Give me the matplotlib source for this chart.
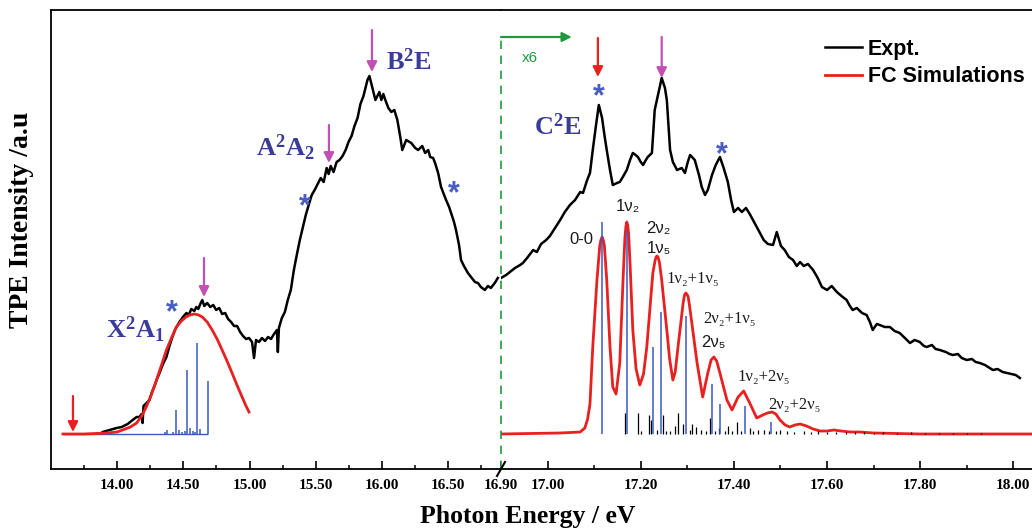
import matplotlib
matplotlib.use('Agg')
import matplotlib.pyplot as plt

plt.rcParams['font.family'] = ['Liberation Serif', 'DejaVu Serif']
plt.rcParams['mathtext.fontset'] = 'custom'
plt.rcParams['mathtext.rm'] = 'Liberation Serif'
plt.rcParams['mathtext.bf'] = 'Liberation Serif:bold'
plt.rcParams['mathtext.it'] = 'Liberation Serif:italic'

# ---- experimental TPE spectrum, below 16.9 eV (energy eV, intensity a.u.)
exp_left_e = [13.891, 13.944, 13.996, 14.034, 14.079, 14.117, 14.147, 14.169, 14.184, 14.192,
              14.199, 14.222, 14.244, 14.263, 14.282, 14.301, 14.320, 14.346, 14.372, 14.395,
              14.417, 14.440, 14.470, 14.497, 14.523, 14.541, 14.560, 14.583, 14.598, 14.613,
              14.628, 14.643, 14.658, 14.680, 14.703, 14.726, 14.748, 14.771, 14.793, 14.816,
              14.838, 14.861, 14.883, 14.906, 14.929, 14.951, 14.974, 14.996, 15.019, 15.034,
              15.049, 15.071, 15.094, 15.117, 15.140, 15.162, 15.185, 15.207, 15.214, 15.222,
              15.244, 15.267, 15.289, 15.312, 15.335, 15.357, 15.380, 15.402, 15.425, 15.447,
              15.470, 15.492, 15.515, 15.538, 15.560, 15.583, 15.598, 15.613, 15.635, 15.658,
              15.680, 15.703, 15.726, 15.748, 15.771, 15.793, 15.816, 15.838, 15.861, 15.876,
              15.891, 15.906, 15.921, 15.936, 15.951, 15.966, 15.981, 15.996, 16.011, 16.026,
              16.049, 16.071, 16.094, 16.117, 16.139, 16.154, 16.184, 16.222, 16.252, 16.274,
              16.305, 16.327, 16.350, 16.365, 16.387, 16.402, 16.425, 16.447, 16.470, 16.485,
              16.508, 16.523, 16.545, 16.560, 16.583, 16.598, 16.620, 16.650, 16.680, 16.703,
              16.726, 16.748, 16.778, 16.801, 16.823, 16.853, 16.876]
exp_left_h = [2, 4, 6, 7, 10, 14, 17, 17, 20, 11,
              28, 31, 34, 42, 48, 55, 61, 70, 77, 88,
              97, 105, 112, 117, 121, 119, 125, 123, 127, 125,
              130, 134, 128, 131, 127, 129, 124, 126, 120, 121,
              115, 112, 108, 108, 102, 98, 95, 96, 92, 76,
              94, 92, 96, 93, 97, 95, 100, 104, 82, 106,
              116, 122, 134, 144, 164, 179, 194, 206, 219, 229,
              239, 244, 250, 256, 252, 266, 260, 268, 262, 272,
              274, 278, 284, 292, 298, 308, 316, 330, 338, 346,
              354, 358, 350, 342, 334, 338, 342, 334, 340, 334,
              326, 322, 324, 314, 297, 284, 294, 291, 286, 284,
              288, 281, 284, 277, 276, 271, 261, 247, 239, 234,
              227, 221, 212, 204, 189, 174, 168, 161, 156, 152,
              151, 147, 144, 148, 146, 151, 156]

# ---- experimental spectrum above 16.9 eV (x6)
exp_right_e = [16.900, 16.911, 16.919, 16.930, 16.941, 16.947, 16.956, 16.969, 16.977, 16.986,
               16.997, 17.005, 17.016, 17.027, 17.037, 17.048, 17.059, 17.070, 17.076, 17.085,
               17.091, 17.097, 17.104, 17.110, 17.117, 17.123, 17.127, 17.134, 17.140, 17.149,
               17.155, 17.164, 17.170, 17.177, 17.183, 17.189, 17.194, 17.200, 17.205, 17.211,
               17.215, 17.224, 17.230, 17.237, 17.245, 17.252, 17.256, 17.263, 17.269, 17.278,
               17.288, 17.295, 17.301, 17.306, 17.316, 17.325, 17.331, 17.338, 17.344, 17.353,
               17.361, 17.370, 17.378, 17.387, 17.394, 17.400, 17.409, 17.417, 17.426, 17.434,
               17.441, 17.447, 17.456, 17.464, 17.473, 17.484, 17.492, 17.501, 17.509, 17.518,
               17.527, 17.535, 17.542, 17.550, 17.559, 17.570, 17.580, 17.589, 17.600, 17.610,
               17.621, 17.631, 17.642, 17.649, 17.655, 17.664, 17.675, 17.685, 17.692, 17.698,
               17.707, 17.713, 17.724, 17.735, 17.745, 17.756, 17.767, 17.778, 17.788, 17.799,
               17.808, 17.814, 17.825, 17.833, 17.842, 17.855, 17.863, 17.870, 17.881, 17.889,
               17.900, 17.911, 17.919, 17.928, 17.939, 17.949, 17.956, 17.966, 17.977, 17.986,
               17.996, 18.005, 18.014]
exp_right_h = [156, 159, 162, 166, 169, 171, 176, 184, 182, 190,
               194, 198, 206, 214, 222, 229, 234, 242, 241, 254,
               261, 284, 309, 329, 316, 296, 284, 264, 249, 251,
               252, 259, 264, 274, 281, 279, 277, 272, 269, 274,
               277, 281, 324, 339, 356, 346, 334, 284, 272, 264,
               266, 261, 272, 279, 274, 259, 247, 239, 244, 259,
               269, 277, 266, 252, 234, 222, 226, 222, 226, 220,
               214, 209, 201, 194, 190, 189, 202, 188, 184, 177,
               174, 168, 172, 168, 170, 164, 156, 147, 144, 148,
               142, 138, 134, 128, 124, 126, 121, 119, 112, 104,
               110, 109, 107, 107, 103, 101, 96, 91, 94, 92,
               88, 87, 89, 85, 84, 82, 80, 79, 80, 76,
               74, 75, 72, 71, 69, 66, 64, 65, 62, 61,
               60, 59, 56]

# ---- FC simulation, X2A1 band
fc_left_e = [13.59, 13.75, 13.92, 14.00, 14.04, 14.10, 14.147, 14.185, 14.22, 14.26,
             14.297, 14.335, 14.372, 14.41, 14.447, 14.485, 14.52, 14.55, 14.583, 14.615,
             14.643, 14.68, 14.718, 14.755, 14.793, 14.83, 14.868, 14.905, 14.944, 14.97,
             14.996]
fc_left_h = [0, 0, 1, 2, 4, 7, 11, 18, 27, 40,
             54, 69, 84, 96, 107, 113, 117, 119, 120, 119,
             117, 112, 104, 95, 84, 73, 61, 49, 37, 29,
             22]

# ---- FC simulation, C2E band
fc_right_e = [16.900, 17.027, 17.070, 17.080, 17.086, 17.091, 17.097, 17.106, 17.112, 17.1145,
              17.117, 17.1195, 17.122, 17.127, 17.134, 17.140, 17.147, 17.155, 17.162, 17.166,
              17.168, 17.170, 17.172, 17.174, 17.177, 17.183, 17.190, 17.198, 17.206, 17.213,
              17.226, 17.231, 17.233, 17.235, 17.237, 17.240, 17.245, 17.256, 17.262, 17.269,
              17.274, 17.280, 17.291, 17.294, 17.297, 17.300, 17.302, 17.306, 17.321, 17.333,
              17.344, 17.351, 17.357, 17.363, 17.370, 17.385, 17.396, 17.409, 17.421, 17.434,
              17.449, 17.462, 17.472, 17.482, 17.490, 17.499, 17.510, 17.520, 17.531, 17.542,
              17.556, 17.570, 17.585, 17.600, 17.615, 17.630, 17.650, 17.670, 17.700, 17.800,
              18.040]
fc_right_h = [0, 1, 2, 6, 15, 30, 87, 154, 188, 194,
              197, 194, 188, 154, 87, 47, 40, 71, 154, 196,
              207, 212, 209, 200, 171, 104, 65, 49, 60, 87,
              161, 174, 177, 178, 177, 172, 154, 104, 75, 54,
              62, 87, 131, 139, 141, 139, 137, 124, 71, 37,
              61, 74, 77, 73, 61, 34, 24, 37, 43, 31,
              16, 19, 21, 22, 20, 14, 9, 7, 9, 10,
              8, 5, 3, 3, 4, 3, 2, 2, 1, 0,
              0]

# ---- stick spectra
stick_left_e = [14.36, 14.38, 14.42, 14.447, 14.47, 14.49, 14.51, 14.53, 14.553, 14.57,
                14.59, 14.605, 14.628, 14.688]
stick_left_h = [2, 4, 2, 24, 4, 2, 3, 64, 6, 3, 2, 91, 5, 53]

stick_blue_e = [17.117, 17.170, 17.226, 17.243, 17.297, 17.353, 17.370, 17.424, 17.479]
stick_blue_h = [212, 204, 87, 122, 118, 50, 30, 28, 12]

stick_black_e = [17.166, 17.194, 17.200, 17.218, 17.222, 17.235, 17.248, 17.255, 17.263, 17.273,
                 17.280, 17.291, 17.305, 17.310, 17.318, 17.329, 17.340, 17.348, 17.360, 17.368,
                 17.380, 17.387, 17.395, 17.406, 17.415, 17.434, 17.440, 17.452, 17.465, 17.475,
                 17.490, 17.500, 17.515, 17.530, 17.550, 17.565, 17.580, 17.600, 17.620, 17.640,
                 17.660, 17.680, 17.700, 17.720, 17.750, 17.780, 17.810, 17.840, 17.870, 17.900,
                 17.930]
stick_black_h = [21, 21, 3, 19, 14, 4, 19, 3, 3, 8,
                 21, 10, 4, 10, 7, 4, 3, 16, 3, 6,
                 3, 8, 3, 12, 3, 6, 3, 4, 4, 3,
                 3, 4, 3, 2, 3, 2, 3, 2, 2, 2,
                 2, 2, 1, 2, 1, 2, 1, 1, 1, 1,
                 1]

left_ticks = [14.0, 14.5, 15.0, 15.5, 16.0, 16.5, 16.9]
left_minor = [13.75, 14.25, 14.75, 15.25, 15.75, 16.25, 16.75]
right_ticks = [17.0, 17.2, 17.4, 17.6, 17.8, 18.0]
right_minor = [17.1, 17.3, 17.5, 17.7, 17.9]

RED = '#e8201f'
BLUE = '#3a57c4'
MAG = '#c24fb4'
NAVY = '#3b3b9c'
GREEN = '#1f9a3e'

fig = plt.figure(figsize=(10.32, 5.31), dpi=100)
axL = fig.add_axes([51/1032, 62/531, 450/1032, 459/531])
axR = fig.add_axes([501/1032, 62/531, 531/1032, 459/531])

for ax in (axL, axR):
    ax.set_ylim(-35, 424)
    ax.spines['right'].set_visible(False)
    for s in ax.spines.values():
        s.set_linewidth(1.3)
    ax.tick_params(axis='x', which='major', direction='in', length=6, width=1.2,
                   labelsize=11, pad=7)
    ax.tick_params(axis='x', which='minor', direction='in', length=3, width=1.1)
    ax.tick_params(axis='y', left=False, labelleft=False, which='both')
axR.spines['left'].set_visible(False)

axL.set_xlim(13.5, 16.9)
axR.set_xlim(16.9, 18.04)
axL.set_xticks(left_ticks)
axL.set_xticklabels(['%.2f' % t for t in left_ticks], fontweight='bold')
axL.set_xticks(left_minor, minor=True)
axR.set_xticks(right_ticks)
axR.set_xticklabels(['%.2f' % t for t in right_ticks], fontweight='bold')
axR.set_xticks(right_minor, minor=True)

# spectra
axL.plot(exp_left_e, exp_left_h, color='black', lw=1.8, zorder=2)
axL.hlines(0, fc_left_e[0], stick_left_e[-1], color=BLUE, lw=1, zorder=2.5)
axL.plot(fc_left_e, fc_left_h, color=RED, lw=2, zorder=3)
axL.vlines(stick_left_e, 0, stick_left_h, color=BLUE, lw=1.1, zorder=4)

l1, = axR.plot(exp_right_e, exp_right_h, color='black', lw=1.8, zorder=2, label='Expt.')
l2, = axR.plot(fc_right_e, fc_right_h, color=RED, lw=2, zorder=3, label='FC Simulations')
axR.vlines(stick_black_e, 0, stick_black_h, color='black', lw=0.9, zorder=4)
axR.vlines(stick_blue_e, 0, stick_blue_h, color=BLUE, lw=1.1, zorder=4)

# x6 marker
axR.plot([16.9, 16.9], [-35, 397], color=GREEN, lw=1.2, ls=(0, (5, 4)), clip_on=False, zorder=5)
axR.annotate('', xy=(17.052, 397), xytext=(16.9, 397),
             arrowprops=dict(arrowstyle='-|>', color=GREEN, lw=1.6, mutation_scale=14,
                             shrinkA=0, shrinkB=0))
axR.text(16.962, 376, 'x6', color=GREEN, fontsize=11, family='Liberation Sans',
         ha='center', va='center')

# axis break mark
axR.plot([-4/531, 4/531], [-7/459, 7/459], transform=axR.transAxes, color='black',
         lw=1.5, clip_on=False, zorder=6)

# arrows marking band onsets / maxima
def arrow(ax, x, ytop, ytip, c):
    ax.annotate('', xy=(x, ytip), xytext=(x, ytop),
                arrowprops=dict(arrowstyle='-|>', color=c, lw=1.6, mutation_scale=15,
                                shrinkA=0, shrinkB=0))

arrow(axL, 13.666, 38, 2, RED)
arrow(axL, 14.656, 176, 137, MAG)
arrow(axL, 15.600, 309, 271, MAG)
arrow(axL, 15.925, 404, 362, MAG)
arrow(axR, 17.108, 396, 357, RED)
arrow(axR, 17.245, 397, 356, MAG)

# asterisks
for ax, x, y in [(axL, 14.412, 121), (axL, 15.418, 227), (axL, 16.544, 240),
                 (axR, 17.110, 337), (axR, 17.374, 279)]:
    ax.text(x, y, '*', color='#4a5dc2', fontsize=22, fontweight='bold',
            family='Liberation Sans', ha='center', va='center')

# state labels
axL.text(14.138, 104, r'$\mathbf{X^2A_1}$', color=NAVY, fontsize=19, ha='center', va='center')
axL.text(15.270, 286, r'$\mathbf{A^2A_2}$', color=NAVY, fontsize=19, ha='center', va='center')
axL.text(16.204, 372, r'$\mathbf{B^2E}$', color=NAVY, fontsize=19, ha='center', va='center')
axR.text(17.022, 307, r'$\mathbf{C^2E}$', color=NAVY, fontsize=19, ha='center', va='center')

# vibrational assignments
sans = ['Liberation Sans', 'DejaVu Sans']
serif = ['Liberation Serif', 'DejaVu Serif']
vib = [('0-0', 17.072, 195, sans), ('1ν₂', 17.172, 228, sans), ('2ν₂', 17.237, 205, sans),
       ('1ν₅', 17.240, 186, sans), ('1ν₂+1ν₅', 17.312, 155, serif),
       ('2ν₂+1ν₅', 17.391, 115, serif), ('2ν₅', 17.355, 91, sans),
       ('1ν₂+2ν₅', 17.464, 57, serif), ('2ν₂+2ν₅', 17.529, 29, serif)]
for txt, x, y, fam in vib:
    axR.text(x, y, txt, fontsize=12, family=fam, color='#1a1a1a', ha='center', va='center')

axR.legend(handles=[l1, l2], loc='upper left', bbox_to_anchor=(0.610, 0.937),
           frameon=False, borderpad=0, borderaxespad=0, handlelength=1.7,
           handletextpad=0.3, labelspacing=0.3,
           prop={'family': 'Liberation Sans', 'weight': 'bold', 'size': 15.5})

fig.text(528/1032, 1 - 517/531, 'Photon Energy / eV', fontsize=18.5, fontweight='bold',
         ha='center', va='center')
fig.text(22/1032, 1 - 220/531, 'TPE Intensity /a.u', fontsize=20, fontweight='bold',
         ha='center', va='center', rotation=90)

fig.savefig('out.png', dpi=100)
